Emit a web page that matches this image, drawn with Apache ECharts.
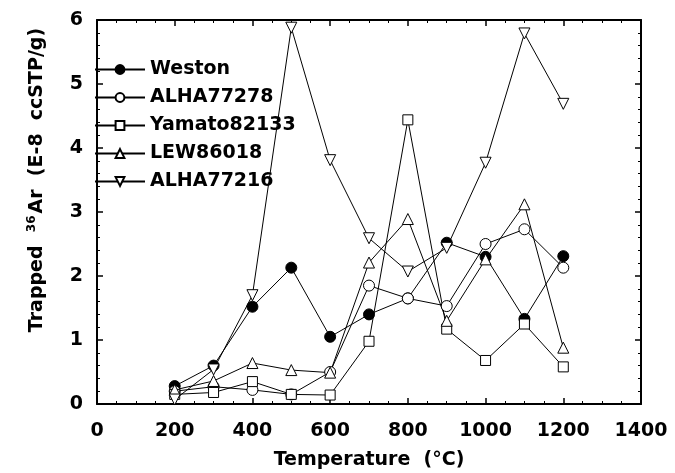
<!DOCTYPE html>
<html>
<head>
<meta charset="utf-8">
<script src="https://cdn.jsdelivr.net/npm/echarts@6/dist/echarts.min.js"></script>
<style>
    html, body { margin: 0; padding: 0; background: #fff; }
    #chart { width: 675px; height: 473px; }
</style>
</head>
<body>
<div id="chart"></div>
<script>
    // 温度 (°C)
    const temps = [200, 300, 400, 500, 600, 700, 800, 900, 1000, 1100, 1200];
    // Trapped 36Ar (E-8 ccSTP/g)
    const weston = [0.28, 0.60, 1.52, 2.13, 1.05, 1.40, 1.65, 2.52, 2.30, 1.33, 2.31];
    const alha77278 = [0.20, 0.27, 0.22, 0.15, 0.50, 1.85, 1.65, 1.53, 2.50, 2.73, 2.13];
    const yamato82133 = [0.15, 0.18, 0.35, 0.15, 0.14, 0.98, 4.44, 1.17, 0.68, 1.25, 0.58];
    const lew86018 = [0.22, 0.36, 0.64, 0.53, 0.49, 2.21, 2.89, 1.30, 2.26, 3.12, 0.88];
    const alha77216 = [0.07, 0.54, 1.70, 5.88, 3.81, 2.59, 2.07, 2.44, 3.77, 5.79, 4.69];

    const xTicks = { min: 0, max: 1400, interval: 200 };
    const yTicks = { min: 0, max: 6, interval: 1 };

    const FONT = 'DejaVu Sans';

    function pairs (vals) {
        return temps.map((t, i) => [t, vals[i]]);
    }

    function makeSeries (name, vals, symbol, filled, rotate) {
        return {
            name: name,
            type: 'line',
            data: pairs(vals),
            symbol: symbol,
            symbolSize: symbol === 'rect' ? 10 : 11,
            symbolRotate: rotate || 0,
            showSymbol: true,
            lineStyle: { color: '#000', width: 1 },
            itemStyle: {
                color: filled ? '#000' : '#fff',
                borderColor: '#000',
                borderWidth: 1
            },
            emphasis: { disabled: true },
            animation: false
        };
    }

    // 四边都有刻度，刻度朝内
    function axisCommon (show, split, margin) {
        return {
            axisLine: { onZero: false, lineStyle: { color: '#000', width: 2 } },
            axisTick: { inside: true, length: 6, lineStyle: { color: '#000', width: 1.5 } },
            minorTick: { show: true, splitNumber: split, length: 3, lineStyle: { color: '#000', width: 1 } },
            splitLine: { show: false },
            axisLabel: {
                show: show,
                margin: margin || 10,
                fontFamily: FONT,
                fontWeight: 'bold',
                fontSize: 19,
                color: '#000',
                formatter: (v) => String(v)
            }
        };
    }

    const chart = echarts.init(document.getElementById('chart'));

    const option = {
        backgroundColor: '#fff',
        animation: false,
        grid: { left: 97, right: 34, top: 20, bottom: 69, outerBoundsMode: 'none' },
        legend: {
            orient: 'vertical',
            left: 89,
            top: 55,
            itemWidth: 50,
            itemHeight: 11,
            itemGap: 9,
            textStyle: { fontFamily: FONT, fontWeight: 'bold', fontSize: 19, color: '#000' },
            data: ['Weston', 'ALHA77278', 'Yamato82133', 'LEW86018', 'ALHA77216']
        },
        xAxis: [
            Object.assign({
                type: 'value',
                position: 'bottom',
                min: xTicks.min,
                max: xTicks.max,
                interval: xTicks.interval,
                name: 'Temperature  (°C)',
                nameLocation: 'middle',
                nameGap: 47,
                nameTextStyle: { fontFamily: FONT, fontWeight: 'bold', fontSize: 19, color: '#000' }
            }, axisCommon(true, 4, 18)),
            Object.assign({
                type: 'value',
                position: 'top',
                min: xTicks.min,
                max: xTicks.max,
                interval: xTicks.interval
            }, axisCommon(false, 4))
        ],
        yAxis: [
            Object.assign({
                type: 'value',
                position: 'left',
                min: yTicks.min,
                max: yTicks.max,
                interval: yTicks.interval
            }, axisCommon(true, 5, 14)),
            Object.assign({
                type: 'value',
                position: 'right',
                min: yTicks.min,
                max: yTicks.max,
                interval: yTicks.interval
            }, axisCommon(false, 5))
        ],
        graphic: [
            {
                type: 'text',
                x: 37,
                y: 180,
                rotation: Math.PI / 2,
                style: {
                    text: 'Trapped  {sup|36}Ar  (E-8  ccSTP/g)',
                    fontFamily: FONT,
                    fontWeight: 'bold',
                    fontSize: 19,
                    fill: '#000',
                    align: 'center',
                    verticalAlign: 'middle',
                    rich: {
                        sup: {
                            fontFamily: FONT,
                            fontWeight: 'bold',
                            fontSize: 12,
                            padding: [0, 2, 10, 0]
                        }
                    }
                }
            }
        ],
        series: [
            makeSeries('Weston', weston, 'circle', true),
            makeSeries('ALHA77278', alha77278, 'circle', false),
            makeSeries('Yamato82133', yamato82133, 'rect', false),
            makeSeries('LEW86018', lew86018, 'triangle', false),
            makeSeries('ALHA77216', alha77216, 'triangle', false, 180)
        ]
    };

    chart.setOption(option);
</script>
</body>
</html>
